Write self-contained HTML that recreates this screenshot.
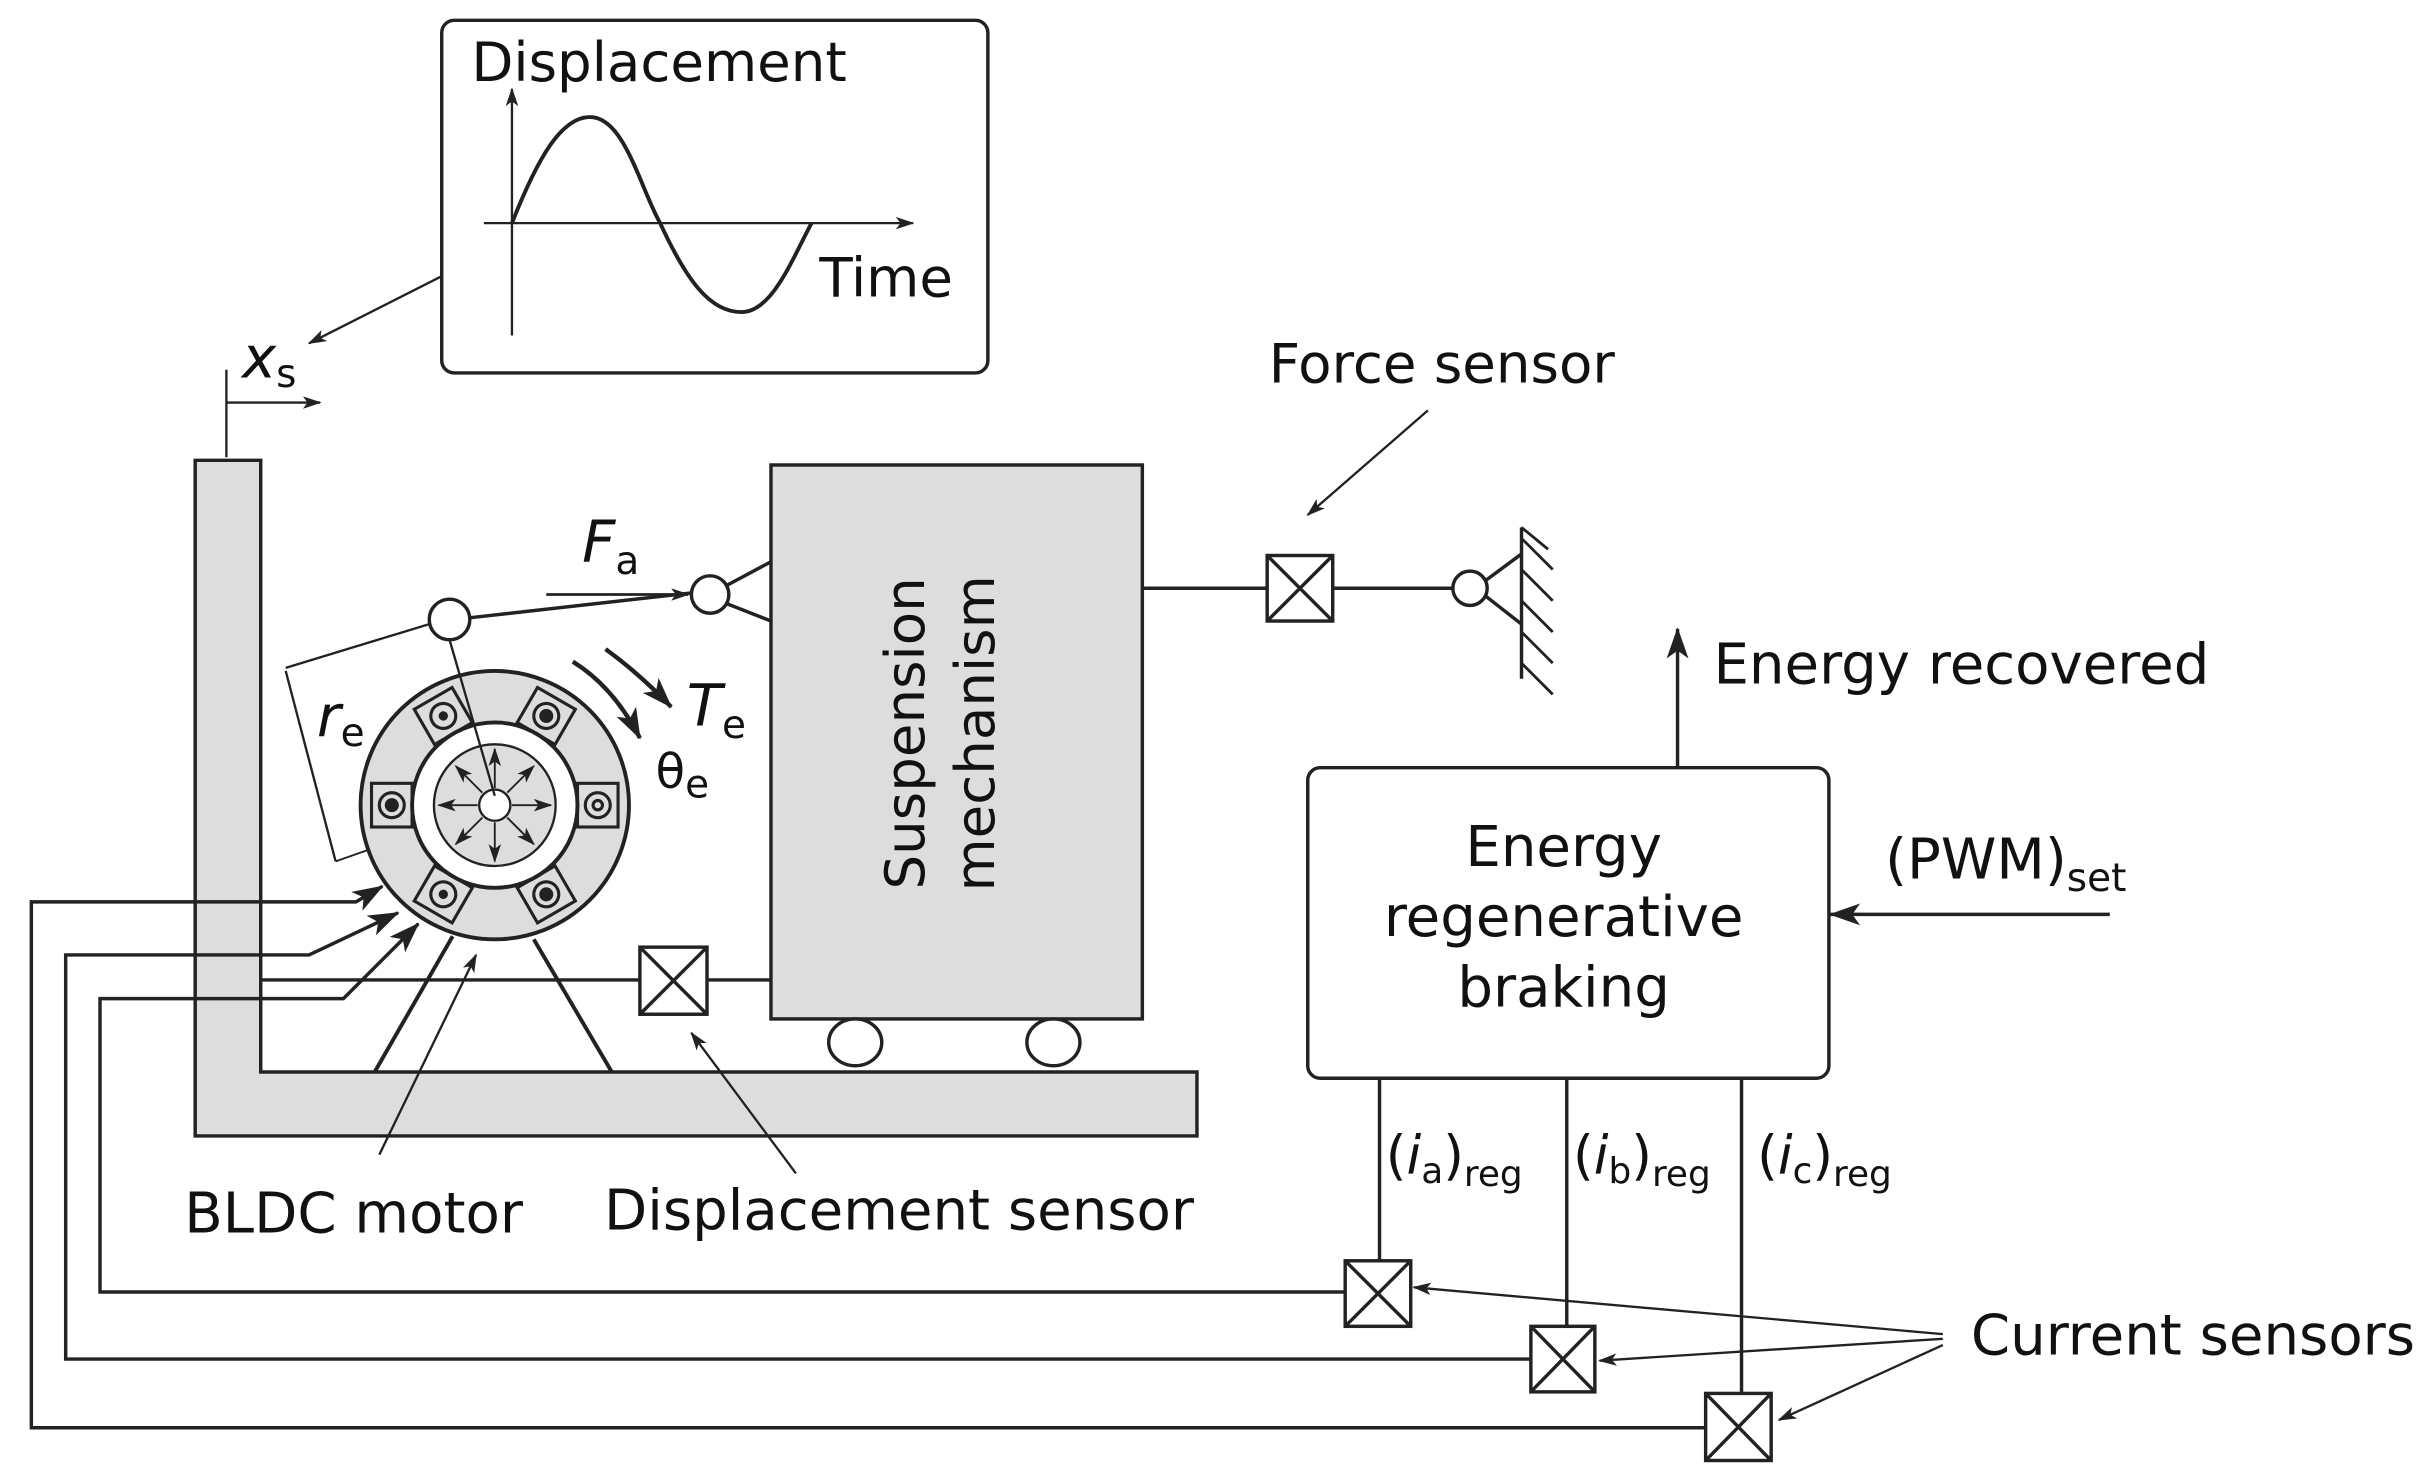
<!DOCTYPE html>
<html><head><style>html,body{margin:0;padding:0;background:#fff}svg{display:block}</style></head>
<body>
<svg width="2422" height="1473" viewBox="0 0 1552 944" xmlns="http://www.w3.org/2000/svg" font-family="'DejaVu Sans','Liberation Sans',sans-serif" fill="none" stroke="#222" stroke-width="2.2">
<defs>
<marker id="a" viewBox="0 0 12 8" refX="11" refY="4" markerWidth="12" markerHeight="8" markerUnits="userSpaceOnUse" orient="auto"><path d="M0,0 L12,4 L0,8 L3,4z" fill="#222" stroke="none"/></marker>
<marker id="b" viewBox="0 0 20 14" refX="19" refY="7" markerWidth="20" markerHeight="14" markerUnits="userSpaceOnUse" orient="auto"><path d="M0,0 L20,7 L0,14 L5,7z" fill="#222" stroke="none"/></marker>
</defs>
<!-- displacement plot -->
<rect x="283" y="13" width="350" height="226" rx="8"/>
<text x="302" y="52" font-size="35" fill="#111" stroke="none">Displacement</text>
<line x1="328" y1="215" x2="328" y2="57" marker-end="url(#a)" stroke-width="1.5"/>
<line x1="310" y1="143" x2="585" y2="143" marker-end="url(#a)" stroke-width="1.5"/>
<path d="M328,143 C345,100 360,75 378,75 C400,75 410,120 423,143 C440,180 455,200 475,200 C495,200 508,165 520,143" stroke-width="2.5"/>
<text x="525" y="190" font-size="35" fill="#111" stroke="none">Time</text>
<line x1="283" y1="177" x2="198" y2="220" marker-end="url(#a)" stroke-width="1.5"/>
<text x="155" y="242" font-size="37" font-style="italic" fill="#111" stroke="none">x<tspan font-size="25" font-style="normal" dy="6">s</tspan></text>
<line x1="145" y1="237" x2="145" y2="293" stroke-width="1.5"/>
<line x1="145" y1="258" x2="205" y2="258" marker-end="url(#a)" stroke-width="1.5"/>
<!-- L frame -->
<path d="M125,295 H167 V687 H767 V728 H125 Z" fill="#ddd"/>
<!-- suspension -->
<rect x="494" y="298" width="238" height="355" fill="#ddd"/>
<text transform="translate(592,470) rotate(-90)" text-anchor="middle" font-size="35" fill="#111" stroke="none">Suspension</text>
<text transform="translate(637,470) rotate(-90)" text-anchor="middle" font-size="35" fill="#111" stroke="none">mechanism</text>
<ellipse cx="548" cy="668" rx="17" ry="15" fill="#fff"/>
<ellipse cx="675" cy="668" rx="17" ry="15" fill="#fff"/>
<line x1="466" y1="375" x2="494" y2="360"/><line x1="466" y1="387" x2="494" y2="398"/>
<circle cx="455" cy="381" r="12" fill="#fff"/>
<line x1="350" y1="381" x2="441" y2="381" marker-end="url(#a)" stroke-width="1.8"/>
<text x="373" y="360" font-size="37" font-style="italic" fill="#111" stroke="none">F<tspan font-size="25" font-style="normal" dy="8">a</tspan></text>
<line x1="300" y1="396" x2="443" y2="380"/>
<line x1="275" y1="400" x2="183" y2="428" stroke-width="1.5"/>
<line x1="183" y1="430" x2="215" y2="552" stroke-width="1.5"/>
<line x1="215" y1="552" x2="317" y2="516" stroke-width="1.2"/>
<text x="203" y="472" font-size="37" font-style="italic" fill="#111" stroke="none">r<tspan font-size="25" font-style="normal" dy="6">e</tspan></text>
<!-- motor -->
<line x1="240" y1="687" x2="290" y2="600" stroke-width="2.5"/>
<line x1="392" y1="687" x2="342" y2="602" stroke-width="2.5"/>
<circle cx="317" cy="516" r="86" fill="#ddd" stroke-width="2.5"/>
<circle cx="317" cy="516" r="53" fill="#fff" stroke-width="2.5"/>
<circle cx="317" cy="516" r="39" fill="#ddd" stroke-width="1.5"/>
<circle cx="317" cy="516" r="10" fill="#fff" stroke-width="1.5"/>
<g stroke-width="2">
<g transform="rotate(-120 317 516)"><rect x="370" y="502" width="26" height="28"/><circle cx="383" cy="516" r="8"/><circle cx="383" cy="516" r="2" fill="#222"/></g>
<g transform="rotate(-60 317 516)"><rect x="370" y="502" width="26" height="28"/><circle cx="383" cy="516" r="8"/><circle cx="383" cy="516" r="3.5" fill="#222"/></g>
<g><rect x="370" y="502" width="26" height="28"/><circle cx="383" cy="516" r="8"/><circle cx="383" cy="516" r="3"/></g>
<g transform="rotate(60 317 516)"><rect x="370" y="502" width="26" height="28"/><circle cx="383" cy="516" r="8"/><circle cx="383" cy="516" r="3.5" fill="#222"/></g>
<g transform="rotate(120 317 516)"><rect x="370" y="502" width="26" height="28"/><circle cx="383" cy="516" r="8"/><circle cx="383" cy="516" r="2" fill="#222"/></g>
<g transform="rotate(180 317 516)"><rect x="370" y="502" width="26" height="28"/><circle cx="383" cy="516" r="8"/><circle cx="383" cy="516" r="3.5" fill="#222"/></g>
</g>
<g stroke-width="1.2">
<line x1="317" y1="505" x2="317" y2="480" marker-end="url(#a)"/>
<line x1="317" y1="527" x2="317" y2="552" marker-end="url(#a)"/>
<line x1="306" y1="516" x2="281" y2="516" marker-end="url(#a)"/>
<line x1="328" y1="516" x2="353" y2="516" marker-end="url(#a)"/>
<line x1="325" y1="508" x2="342" y2="491" marker-end="url(#a)"/>
<line x1="309" y1="508" x2="292" y2="491" marker-end="url(#a)"/>
<line x1="325" y1="524" x2="342" y2="541" marker-end="url(#a)"/>
<line x1="309" y1="524" x2="292" y2="541" marker-end="url(#a)"/>
</g>
<line x1="288" y1="410" x2="317" y2="510" stroke-width="1.5"/>
<circle cx="288" cy="397" r="13" fill="#fff"/>
<path d="M388,416 Q410,432 430,453" stroke-width="2.8" marker-end="url(#b)"/>
<path d="M367,424 Q393,440 410,473" stroke-width="2.8" marker-end="url(#b)"/>
<text x="440" y="465" font-size="37" font-style="italic" fill="#111" stroke="none">T<tspan font-size="25" font-style="normal" dy="8">e</tspan></text>
<text x="420" y="505" font-size="31" fill="#111" stroke="none">θ<tspan font-size="25" dy="6">e</tspan></text>
<!-- disp sensor -->
<line x1="167" y1="628" x2="410" y2="628"/>
<rect x="410" y="607" width="43" height="43"/><path d="M410,607 L453,650 M453,607 L410,650"/>
<line x1="453" y1="628" x2="494" y2="628"/>
<!-- force sensor -->
<line x1="732" y1="377" x2="812" y2="377"/>
<rect x="812" y="356" width="42" height="42"/><path d="M812,356 L854,398 M854,356 L812,398"/>
<line x1="854" y1="377" x2="931" y2="377"/>
<circle cx="942" cy="377" r="11" fill="#fff"/>
<path d="M952,372 L975,355 M952,382 L975,400"/>
<line x1="975" y1="338" x2="975" y2="435"/>
<path d="M975,345 L995,365 M975,365 L995,385 M975,385 L995,405 M975,405 L995,425 M975,425 L995,445 M975,338 L992,352" stroke-width="1.8"/>
<text x="813" y="245" font-size="35" fill="#111" stroke="none">Force sensor</text>
<line x1="915" y1="263" x2="838" y2="330" marker-end="url(#a)" stroke-width="1.5"/>
<!-- energy box -->
<rect x="838" y="492" width="334" height="199" rx="8"/>
<g font-size="36" fill="#111" stroke="none" text-anchor="middle">
<text x="1002" y="555">Energy</text><text x="1002" y="600">regenerative</text><text x="1002" y="645">braking</text></g>
<line x1="1075" y1="492" x2="1075" y2="403" marker-end="url(#b)"/>
<text x="1098" y="438" font-size="36" fill="#111" stroke="none">Energy recovered</text>
<text x="1208" y="563" font-size="36" fill="#111" stroke="none">(PWM)<tspan font-size="25" dy="8">set</tspan></text>
<line x1="1352" y1="586" x2="1173" y2="586" marker-end="url(#b)"/>
<line x1="884" y1="691" x2="884" y2="808"/>
<line x1="1004" y1="691" x2="1004" y2="850"/>
<line x1="1116" y1="691" x2="1116" y2="893"/>
<g font-size="34" fill="#111" stroke="none">
<text x="888" y="752">(<tspan font-style="italic">i</tspan><tspan font-size="23" dy="6">a</tspan><tspan dy="-6">)</tspan><tspan font-size="23" dy="8">reg</tspan></text>
<text x="1008" y="752">(<tspan font-style="italic">i</tspan><tspan font-size="23" dy="6">b</tspan><tspan dy="-6">)</tspan><tspan font-size="23" dy="8">reg</tspan></text>
<text x="1126" y="752">(<tspan font-style="italic">i</tspan><tspan font-size="23" dy="6">c</tspan><tspan dy="-6">)</tspan><tspan font-size="23" dy="8">reg</tspan></text>
</g>
<!-- current sensors -->
<rect x="862" y="808" width="42" height="42" fill="#fff"/><path d="M862,808 L904,850 M904,808 L862,850"/>
<rect x="981" y="850" width="41" height="42" fill="#fff"/><path d="M981,850 L1022,892 M1022,850 L981,892"/>
<rect x="1093" y="893" width="42" height="43" fill="#fff"/><path d="M1093,893 L1135,936 M1135,893 L1093,936"/>
<path d="M862,828 H64 V640 H172 L220,640 L268,592" marker-end="url(#b)"/>
<path d="M981,871 H42 V612 H198 L255,585" marker-end="url(#b)"/>
<path d="M1093,915 H20 V578 H228 L245,568" marker-end="url(#b)"/>
<text x="1263" y="868" font-size="36" fill="#111" stroke="none">Current sensors</text>
<g stroke-width="1.5">
<line x1="1245" y1="855" x2="906" y2="825" marker-end="url(#a)"/>
<line x1="1245" y1="858" x2="1025" y2="872" marker-end="url(#a)"/>
<line x1="1245" y1="862" x2="1140" y2="910" marker-end="url(#a)"/>
<line x1="243" y1="740" x2="305" y2="612" marker-end="url(#a)"/>
<line x1="510" y1="752" x2="443" y2="662" marker-end="url(#a)"/>
</g>
<text x="118" y="790" font-size="36" fill="#111" stroke="none">BLDC motor</text>
<text x="387" y="788" font-size="36" fill="#111" stroke="none">Displacement sensor</text>
</svg>
</body></html>
